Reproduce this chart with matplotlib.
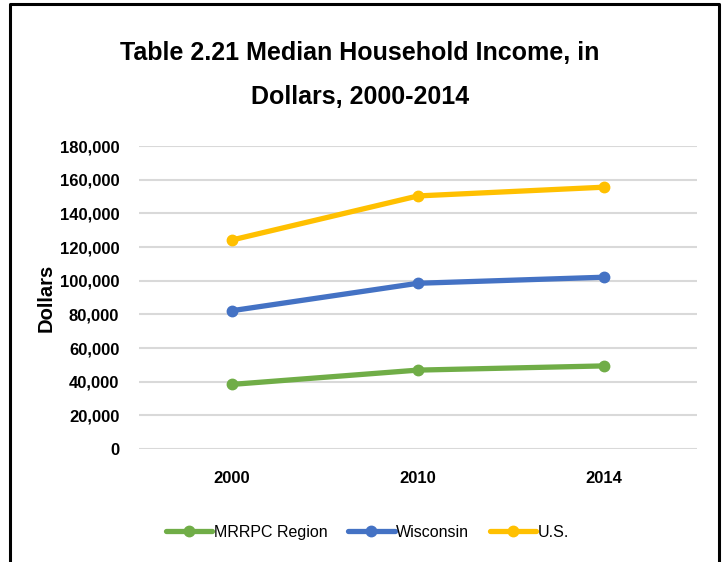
import matplotlib.pyplot as plt
from matplotlib.lines import Line2D
import numpy as np

# data (stacked line chart, like the Excel original)
years = ['2000', '2010', '2014']
mrrpc = [38400, 46900, 49400]
wisconsin = [43800, 51600, 52700]
us = [42000, 51900, 53500]

names = ['MRRPC Region', 'Wisconsin', 'U.S.']
colors = ['#70AD47', '#4472C4', '#FFC000']

plt.rcParams['font.family'] = ['Liberation Sans', 'DejaVu Sans']

fig = plt.figure(figsize=(7.23, 5.62), dpi=100)
ax = fig.add_axes([0.192, 0.201, 0.772, 0.539])

x = np.arange(len(years))
stacked = np.cumsum([mrrpc, wisconsin, us], axis=0)
for vals, name, c in zip(stacked, names, colors):
    ax.plot(x, vals, color=c, lw=3.8, marker='o', markersize=7.5,
            solid_capstyle='round', label=name, zorder=3)

ax.set_ylim(0, 180000)
ax.set_xlim(-0.5, 2.5)
ax.set_yticks(range(0, 180001, 20000))
ax.set_yticklabels([f'{v:,}' for v in range(0, 180001, 20000)],
                   fontsize=12, fontweight='bold')
ax.set_xticks(x)
ax.set_xticklabels(years, fontsize=12, fontweight='bold')
ax.tick_params(length=0, pad=14)
ax.tick_params(axis='x', pad=16)
ax.grid(axis='y', color='#D9D9D9', lw=1.5)
ax.set_axisbelow(True)
for s in ax.spines.values():
    s.set_visible(False)
ax.set_ylabel('Dollars', fontsize=14.5, fontweight='bold', labelpad=3)

fig.text(0.498, 0.905, 'Table 2.21 Median Household Income, in',
         ha='center', va='center', fontsize=18, fontweight='bold')
fig.text(0.498, 0.828, 'Dollars, 2000-2014', ha='center', va='center',
         fontsize=18, fontweight='bold')

ax.legend(loc='center', bbox_to_anchor=(0.41, -0.275), ncol=3, frameon=False,
          handlelength=2.9, handletextpad=0.1, columnspacing=1.3,
          prop={'size': 11.5})

# outer chart border (left, top, right)
fig.add_artist(Line2D([0.014, 0.014, 0.994, 0.994], [0.0, 0.992, 0.992, 0.0],
                      color='black', lw=2.2, transform=fig.transFigure))

fig.savefig('out.png', dpi=100)
